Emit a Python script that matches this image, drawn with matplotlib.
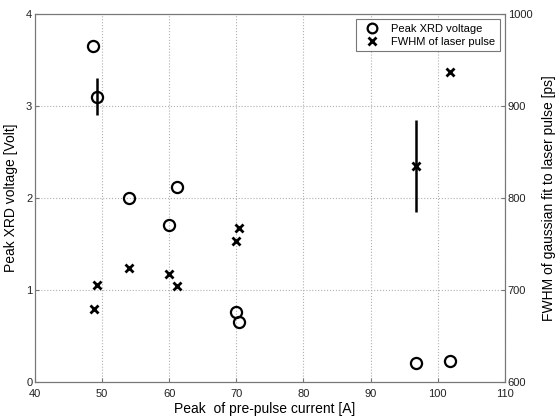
import matplotlib
matplotlib.use("Agg")
import matplotlib.pyplot as plt
from matplotlib.lines import Line2D

plt.rcParams['font.family'] = ['Liberation Sans', 'DejaVu Sans']

# Peak XRD voltage (left axis)
xrd_x = [48.7, 49.2, 54.0, 61.1, 60.0, 70.0, 70.4, 96.8, 101.8]
xrd_v = [3.65, 3.10, 2.00, 2.12, 1.71, 0.76, 0.65, 0.21, 0.23]
xrd_err_x = [49.2]
xrd_err_v = [3.10]
xrd_err = [0.20]

# FWHM of laser pulse (right axis)
fw_x = [48.8, 49.2, 54.0, 60.0, 61.2, 70.0, 70.4, 96.8, 101.8]
fw_v = [679, 705, 724, 717, 704, 753, 767, 835, 937]
fw_err_x = [96.8]
fw_err_v = [835]
fw_err = [50]

xticks = [40, 50, 60, 70, 80, 90, 100, 110]
yticks_left = [0, 1, 2, 3, 4]
yticks_right = [600, 700, 800, 900, 1000]

fig = plt.figure(figsize=(5.56, 4.16), dpi=100)
ax = fig.add_axes([0.063, 0.082, 0.845, 0.884])
ax2 = ax.twinx()

ax.errorbar(xrd_err_x, xrd_err_v, yerr=xrd_err, fmt='none', ecolor='black', elinewidth=1.8, capsize=0)
ax.plot(xrd_x, xrd_v, linestyle='none', marker='o', markersize=8, markerfacecolor='none',
        markeredgecolor='black', markeredgewidth=1.6)
ax2.errorbar(fw_err_x, fw_err_v, yerr=fw_err, fmt='none', ecolor='black', elinewidth=1.8, capsize=0)
ax2.plot(fw_x, fw_v, linestyle='none', marker='x', markersize=6, markeredgecolor='black',
         markeredgewidth=2.0)

ax.set_xlim(40, 110)
ax.set_ylim(0, 4)
ax2.set_ylim(600, 1000)
ax.set_xticks(xticks)
ax.set_yticks(yticks_left)
ax2.set_yticks(yticks_right)

ax.grid(True, linestyle=':', color='#b0b0b0', linewidth=0.8)
for a in (ax, ax2):
    a.tick_params(direction='in', labelsize=8, length=3, color='#777777', labelcolor='#222222', pad=2)
    for s in a.spines.values():
        s.set_color('#777777')
ax.tick_params(axis='x', pad=5)

ax.set_xlabel('Peak  of pre-pulse current [A]', fontsize=10)
ax.xaxis.set_label_coords(0.488, -0.056)
ax.set_ylabel('Peak XRD voltage [Volt]', fontsize=10, labelpad=6)
ax2.set_ylabel('FWHM of gaussian fit to laser pulse [ps]', fontsize=10, labelpad=7)

handles = [Line2D([], [], linestyle='none', marker='o', markersize=7, markerfacecolor='none',
                  markeredgecolor='black', markeredgewidth=1.6, label='Peak XRD voltage'),
           Line2D([], [], linestyle='none', marker='x', markersize=5.5, markeredgecolor='black',
                  markeredgewidth=2.0, label='FWHM of laser pulse')]
leg = ax2.legend(handles=handles, loc='upper right', fontsize=8, frameon=True, fancybox=False,
                 edgecolor='#555555', borderpad=0.4, labelspacing=0.3, handletextpad=0.6,
                 handlelength=2.2, borderaxespad=0.45)
leg.get_frame().set_linewidth(0.8)

fig.savefig('out.png', dpi=100)
